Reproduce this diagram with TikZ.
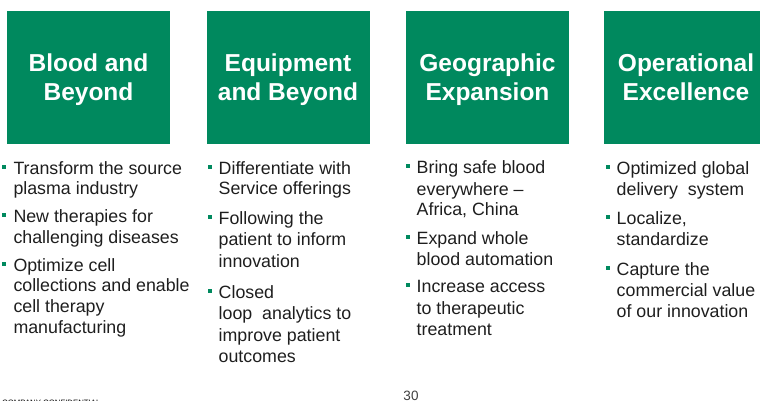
\documentclass[tikz,border=0pt]{standalone}
\usepackage{fontspec}
\setmainfont{Liberation Sans}
\definecolor{hgreen}{RGB}{0,137,94}
\definecolor{btext}{RGB}{30,30,30}
\newcommand\bline[4]{\node[bodytext] (#1) at (#2,#3) {#4};}
\begin{document}
\begin{tikzpicture}[x=1pt,y=-1pt,
  titlebox/.style={draw=none,fill=hgreen,minimum width=163pt,minimum height=133pt,inner sep=0pt},
  titletext/.style={text=white,font=\fontsize{24.5}{28.5}\selectfont\bfseries,align=center,inner sep=0pt},
  bodytext/.style={text=btext,font=\fontsize{17.8}{21}\selectfont,anchor=base west,inner sep=0pt},
  bulletsq/.style={fill=hgreen,minimum size=4pt,inner sep=0pt,draw=none},
  smalltext/.style={font=\fontsize{13.5}{16}\selectfont,inner sep=0pt}]
\useasboundingbox (0,0) rectangle (760,401);
\clip (0,0) rectangle (760,401);
% title boxes
\node[titlebox] (b1) at (88.5,77.5) {};
\node[titlebox] (b2) at (288,77.5) {};
\node[titlebox] (b3) at (487.5,77.5) {};
\node[titlebox] (b4) at (685.5,77.5) {};
\node[titletext] (t1) at (88.5,79.8) {\vphantom{Bly}Blood and\\\vphantom{Bly}Beyond};
\node[titletext] (t2) at (288,79.8) {\vphantom{Bly}Equipment\\\vphantom{Bly}and Beyond};
\node[titletext] (t3) at (487.5,79.8) {\vphantom{Bly}Geographic\\\vphantom{Bly}Expansion};
\node[titletext] (t4) at (686,79.8) {\vphantom{Bly}Operational\\\vphantom{Bly}Excellence};
% column 1
\node[bulletsq] (p11) at (4,166.5) {};
\node[bulletsq] (p12) at (4,215.2) {};
\node[bulletsq] (p13) at (4,263.5) {};
\bline{a1}{13.3}{174}{Transform the source}
\bline{a2}{13.3}{194.5}{plasma industry}
\bline{a3}{13.3}{222.7}{New therapies for}
\bline{a4}{13.3}{243.3}{challenging diseases}
\bline{a5}{13.3}{271}{Optimize cell}
\bline{a6}{13.3}{291.7}{collections and enable}
\bline{a7}{13.3}{312.3}{cell therapy}
\bline{a8}{13.3}{333}{manufacturing}
% column 2
\node[bulletsq] (p21) at (210,166.5) {};
\node[bulletsq] (p22) at (210,216.5) {};
\node[bulletsq] (p23) at (210,290.5) {};
\bline{c1}{218.5}{174}{Differentiate with}
\bline{c2}{218.5}{194.5}{Service offerings}
\bline{c3}{218.5}{224}{Following the}
\bline{c4}{218.5}{245.5}{patient to inform}
\bline{c5}{218.5}{267}{innovation}
\bline{c6}{218.5}{298}{Closed}
\bline{c7}{218.5}{319.5}{loop\ \ analytics to}
\bline{c8}{218.5}{341}{improve patient}
\bline{c9}{218.5}{362.5}{outcomes}
% column 3
\node[bulletsq] (p31) at (408,166) {};
\node[bulletsq] (p32) at (408,236.5) {};
\node[bulletsq] (p33) at (408,285.2) {};
\bline{d1}{416.5}{173.5}{Bring safe blood}
\bline{d2}{416.5}{195}{everywhere –}
\bline{d3}{416.5}{215.5}{Africa, China}
\bline{d4}{416.5}{244}{Expand whole}
\bline{d5}{416.5}{265}{blood automation}
\bline{d6}{416.5}{292.7}{Increase access}
\bline{d7}{416.5}{314.3}{to therapeutic}
\bline{d8}{416.5}{335.7}{treatment}
% column 4
\node[bulletsq] (p41) at (608,166.5) {};
\node[bulletsq] (p42) at (608,216.8) {};
\node[bulletsq] (p43) at (608,267.5) {};
\bline{e1}{616.5}{174}{Optimized global}
\bline{e2}{616.5}{195}{delivery\ \ system}
\bline{e3}{616.5}{224.3}{Localize,}
\bline{e4}{616.5}{245.7}{standardize}
\bline{e5}{616.5}{275}{Capture the}
\bline{e6}{616.5}{296.7}{commercial value}
\bline{e7}{616.5}{317.7}{of our innovation}
% footer
\node[smalltext,text=black!75,anchor=base] (pg) at (411,400.3) {30};
\node[font=\fontsize{7.8}{9}\selectfont,text=black,anchor=base west,inner sep=0pt] (ft) at (2,405.5) {COMPANY CONFIDENTIAL};
\end{tikzpicture}
\end{document}
